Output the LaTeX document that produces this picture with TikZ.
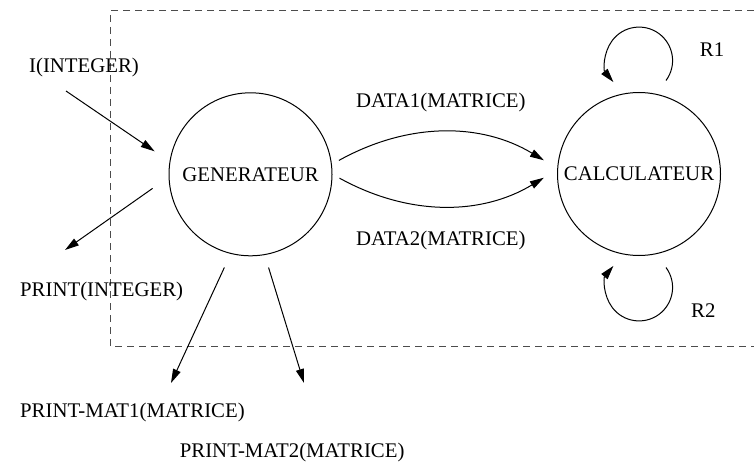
\documentclass[tikz,border=0pt]{standalone}
\usepackage{fontspec}
\setmainfont{Liberation Serif}
\usepackage{tikz}
\usetikzlibrary{arrows.meta}
\tikzset{every picture/.style={line width=0.5pt}}
\tikzset{
  proc/.style={circle,draw,minimum size=81.5pt,inner sep=0pt},
  arr/.style={-{Triangle[length=7pt,width=4pt]}},
  frame/.style={dashed,dash pattern=on 3.5pt off 2.5pt,draw=black!70}
}

\begin{document}
\begin{tikzpicture}[x=0.5pt,y=-0.5pt,font=\fontsize{10.4pt}{12.5pt}\selectfont]
\useasboundingbox (0,0) rectangle (754,465);
%
\draw[frame] (754,11) -- (110,11) -- (110,346) -- (754,346);
%
\node[proc] (gen) at (250.5,174.3) {GENERATEUR};
\node[proc] (calc) at (639,174) {CALCULATEUR};
%
\node[anchor=base west] (lin) at (22,73) {I(INTEGER)};
\node[anchor=base west] (lout) at (13,296.7) {PRINT(INTEGER)};
\node[anchor=base west] (lm1) at (13,417.7) {PRINT-MAT1(MATRICE)};
\node[anchor=base west] (lm2) at (172.7,457.7) {PRINT-MAT2(MATRICE)};
\node[anchor=base west] (ld1) at (349,107.3) {DATA1(MATRICE)};
\node[anchor=base west] (ld2) at (349,245.7) {DATA2(MATRICE)};
\node[anchor=base west] (lr1) at (692.7,56.7) {R1};
\node[anchor=base west] (lr2) at (684,317.3) {R2};
%
\coordinate (i0) at (66,91);
\coordinate (p0) at (65,250);
\coordinate (p1) at (171,383);
\coordinate (p2) at (304,383);
%
\draw[arr,shorten >=9pt] (i0) -- (gen.171);
\foreach \Angle/\Gap/\Target in {%
	182/9.75pt/p0,
	256/7.5pt/p1,
	280/6.5pt/p2%
    }
\draw[arr,shorten <=\Gap] (gen.\Angle) -- (\Target);
%
\draw[arr,shorten <=4pt,shorten >=7.75pt] (gen.7) to[bend left=30] (calc.176);
\draw[arr,shorten <=4pt,shorten >=7.75pt] (gen.0) to[bend right=30] (calc.177);
%
\draw[arr] ([shift={(27,-11.5)}]calc.north) arc[start angle=-36.5,end angle=220,radius=16.75pt];
\draw[arr] ([shift={(27,11.5)}]calc.south) arc[start angle=36.5,end angle=-220,radius=16.75pt];
\end{tikzpicture}
\end{document}
